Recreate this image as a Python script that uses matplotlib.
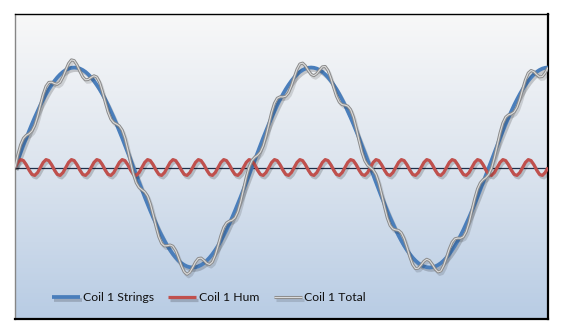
import numpy as np
import matplotlib
matplotlib.use("Agg")
import matplotlib.pyplot as plt
import matplotlib.patheffects as pe
from matplotlib.colors import LinearSegmentedColormap

strings = [
    0, .075, .149, .223, .295, .365, .434, .5, .563, .624, .680, .733, .782, .826, .866, .901, .931, .956, .975, .989, .997, 1.0,
    .997, .989, .975, .956, .931, .901, .866, .826, .782, .733, .680, .624, .563, .5, .434, .365, .295, .223, .149, .075, 0,
    -.075, -.149, -.223, -.295, -.365, -.434, -.5, -.563, -.624, -.680, -.733, -.782, -.826, -.866, -.901, -.931, -.956, -.975, -.989, -.997, -1.0,
    -.997, -.989, -.975, -.956, -.931, -.901, -.866, -.826, -.782, -.733, -.680, -.624, -.563, -.5, -.434, -.365, -.295, -.223, -.149, -.075, 0,
    .075, .149, .223, .295, .365, .434, .5, .563, .624, .680, .733, .782, .826, .866, .901, .931, .956, .975, .989, .997, 1.0,
    .997, .989, .975, .956, .931, .901, .866, .826, .782, .733, .680, .624, .563, .5, .434, .365, .295, .223, .149, .075, 0,
    -.075, -.149, -.223, -.295, -.365, -.434, -.5, -.563, -.624, -.680, -.733, -.782, -.826, -.866, -.901, -.931, -.956, -.975, -.989, -.997, -1.0,
    -.997, -.989, -.975, -.956, -.931, -.901, -.866, -.826, -.782, -.733, -.680, -.624, -.563, -.5, -.434, -.365, -.295, -.223, -.149, -.075, 0,
    .075, .149, .223, .295, .365, .434, .5, .563, .624, .680, .733, .782, .826, .866, .901, .931, .956, .975, .989, .997, 1.0,
]

hum = [
    0, .051, .079, .069, .027, -.027, -.069, -.079, -.051,
    0, .051, .079, .069, .027, -.027, -.069, -.079, -.051,
    0, .051, .079, .069, .027, -.027, -.069, -.079, -.051,
    0, .051, .079, .069, .027, -.027, -.069, -.079, -.051,
    0, .051, .079, .069, .027, -.027, -.069, -.079, -.051,
    0, .051, .079, .069, .027, -.027, -.069, -.079, -.051,
    0, .051, .079, .069, .027, -.027, -.069, -.079, -.051,
    0, .051, .079, .069, .027, -.027, -.069, -.079, -.051,
    0, .051, .079, .069, .027, -.027, -.069, -.079, -.051,
    0, .051, .079, .069, .027, -.027, -.069, -.079, -.051,
    0, .051, .079, .069, .027, -.027, -.069, -.079, -.051,
    0, .051, .079, .069, .027, -.027, -.069, -.079, -.051,
    0, .051, .079, .069, .027, -.027, -.069, -.079, -.051,
    0, .051, .079, .069, .027, -.027, -.069, -.079, -.051,
    0, .051, .079, .069, .027, -.027, -.069, -.079, -.051,
    0, .051, .079, .069, .027, -.027, -.069, -.079, -.051,
    0, .051, .079, .069, .027, -.027, -.069, -.079, -.051,
    0, .051, .079, .069, .027, -.027, -.069, -.079, -.051,
    0, .051, .079, .069, .027, -.027, -.069, -.079, -.051,
    0, .051, .079, .069, .027, -.027, -.069, -.079, -.051,
    0, .051, .079, .069, .027, -.027, -.069, -.079, -.051,
    0,
]

total = [
    0, .126, .228, .292, .322, .338, .365, .421, .512, .624, .731, .812, .851, .853, .839, .832, .852, .905, .975, 1.040, 1.076, 1.069,
    1.024, .962, .906, .877, .880, .901, .917, .905, .851, .760, .653, .555, .484, .449, .434, .416, .374, .292, .176, .048, -.069,
    -.154, -.200, -.223, -.244, -.286, -.365, -.473, -.590, -.693, -.759, -.784, -.782, -.775, -.787, -.832, -.904, -.983, -1.044, -1.068, -1.048, -1.0,
    -.946, -.910, -.906, -.929, -.958, -.970, -.945, -.877, -.782, -.682, -.601, -.555, -.536, -.527, -.503, -.444, -.346, -.223, -.098, .004, .069,
    .102, .122, .154, .216, .314, .434, .551, .642, .693, .707, .706, .713, .747, .815, .901, .982, 1.035, 1.044, 1.016, .970, .931,
    .918, .938, .975, 1.007, 1.010, .970, .893, .799, .713, .654, .629, .624, .614, .579, .503, .392, .268, .154, .070, .024, 0,
    -.024, -.070, -.154, -.268, -.392, -.503, -.579, -.614, -.624, -.629, -.654, -.713, -.799, -.893, -.970, -1.010, -1.007, -.975, -.938, -.918, -.931,
    -.970, -1.016, -1.044, -1.035, -.982, -.901, -.815, -.747, -.713, -.706, -.707, -.693, -.642, -.551, -.434, -.314, -.216, -.154, -.122, -.102, -.069,
    -.004, .098, .223, .346, .444, .503, .527, .536, .555, .601, .682, .782, .877, .945, .970, .958, .929, .906, .910, .946, 1.0,
]

labels = ["Coil 1 Strings", "Coil 1 Hum", "Coil 1 Total"]

x = np.arange(len(strings))

# ---- figure ----
plt.rcParams['font.family'] = ['Lato', 'DejaVu Sans']
fig = plt.figure(figsize=(5.64, 3.35), dpi=100)
fig.patch.set_facecolor('white')
ax = fig.add_axes([15 / 564, 16 / 335, 533 / 564, 305 / 335])

YLO, YHI = -1.515, 1.535
ax.set_xlim(0, len(strings) - 1)
ax.set_ylim(YLO, YHI)

# gradient background
cmap = LinearSegmentedColormap.from_list('bg', ['#B8CCE4', '#DCE4EE', '#F8F8F8'])
grad = np.linspace(0, 1, 256).reshape(-1, 1)
ax.imshow(grad, extent=[0, len(strings) - 1, YLO, YHI], origin='lower',
          aspect='auto', cmap=cmap, zorder=0, interpolation='bicubic')

ax.axhline(0, color='#1E2E48', lw=0.9, zorder=1)

shadow = pe.SimpleLineShadow(offset=(1.2, -1.8), shadow_color='#000000', alpha=0.18)

ax.plot(x, strings, color='#4A7EBB', lw=2.7, solid_capstyle='butt', zorder=3,
        label=labels[0], path_effects=[shadow, pe.Normal()])
ax.plot(x, hum, color='#C0504D', lw=2.3, solid_capstyle='butt', zorder=3,
        label=labels[1], path_effects=[shadow, pe.Normal()])
ax.plot(x, total, color='#DCDCDC', lw=0.8, solid_capstyle='butt', zorder=4,
        label=labels[2],
        path_effects=[pe.SimpleLineShadow(offset=(1.2, -1.8), shadow_color='#000000',
                                          alpha=0.13, linewidth=2.2),
                      pe.Stroke(linewidth=2.2, foreground='#8A8A8A'), pe.Normal()])

ax.set_xticks([])
ax.set_yticks([])
ax.spines['left'].set_color('#868686')
ax.spines['left'].set_linewidth(1.0)
ax.spines['top'].set_color('#000000')
ax.spines['top'].set_linewidth(1.0)
for s in ('right', 'bottom'):
    ax.spines[s].set_color('#000000')
    ax.spines[s].set_linewidth(1.6)

leg = ax.legend(loc='center', bbox_to_anchor=(0.364, 0.069), ncol=3, frameon=False,
                fontsize=8.8, handlelength=2.3, handletextpad=0.2, columnspacing=1.2)
for t in leg.get_texts():
    t.set_color('#111111')

fig.savefig('out.png', dpi=100)
